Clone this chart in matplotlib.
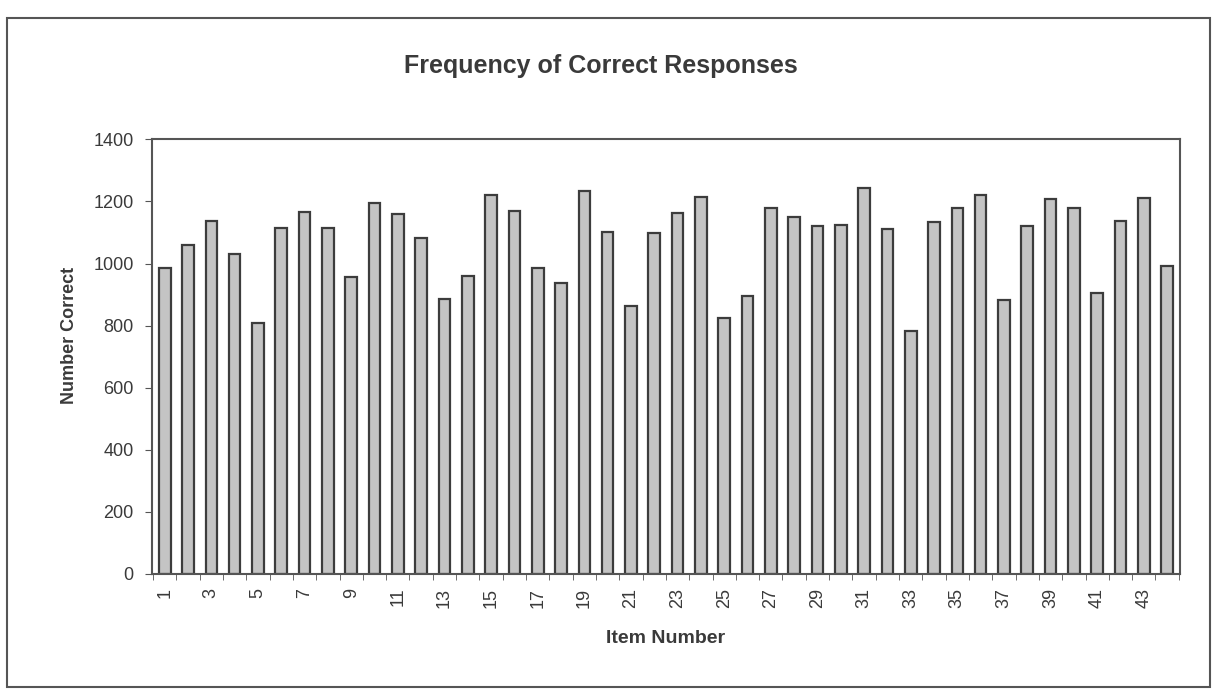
import numpy as np
from matplotlib import pyplot as plt
from matplotlib.patches import Rectangle

# Number of correct responses for each of the 44 items
items = np.arange(1, 45)
correct = [985, 1060, 1136, 1030, 808, 1116, 1166, 1114, 958, 1194,
           1161, 1082, 885, 961, 1220, 1170, 986, 937, 1234, 1103,
           863, 1098, 1163, 1213, 824, 897, 1180, 1149, 1121, 1125,
           1242, 1112, 783, 1134, 1180, 1222, 882, 1120, 1207, 1179,
           905, 1137, 1210, 991]
y_ticks = [0, 200, 400, 600, 800, 1000, 1200, 1400]

plt.rcParams['font.family'] = ['Liberation Sans', 'DejaVu Sans']
text_col = '#3a3a3a'

fig = plt.figure(figsize=(12.23, 6.97), dpi=100)
ax = fig.add_axes([0.124, 0.1765, 0.841, 0.6235])

ax.bar(items, correct, width=0.5, color='#c4c4c4', edgecolor='#3c3c3c', linewidth=1.6)

ax.set_xlim(0.44, 44.56)
ax.set_ylim(0, 1400)
ax.set_yticks(y_ticks)
ax.set_yticklabels([str(v) for v in y_ticks], fontsize=13, color=text_col)
ax.tick_params(axis='y', length=5, color='#555555', pad=8)

ax.set_xticks(items[::2])
ax.set_xticklabels([str(i) for i in items[::2]], rotation=90, fontsize=13, color=text_col)
ax.set_xticks(np.arange(0.5, 45, 1), minor=True)
ax.tick_params(axis='x', which='major', length=0, pad=10)
ax.tick_params(axis='x', which='minor', length=4, color='#555555')

for s in ax.spines.values():
    s.set_color('#555555')
    s.set_linewidth(1.5)

ax.set_xlabel('Item Number', fontsize=14, fontweight='bold', color=text_col)
ax.xaxis.set_label_coords(0.5, -0.128)
ax.set_ylabel('Number Correct', fontsize=13, fontweight='bold', color=text_col)
ax.yaxis.set_label_coords(-0.072, 0.55)
fig.text(0.491, 0.905, 'Frequency of Correct Responses', ha='center', va='center',
         fontsize=18, fontweight='bold', color=text_col)

# outer chart border
fig.patches.append(Rectangle((0.006, 0.014), 0.983, 0.96, transform=fig.transFigure,
                             fill=False, edgecolor='#555555', linewidth=1.5))

plt.savefig('out.png', dpi=100)
